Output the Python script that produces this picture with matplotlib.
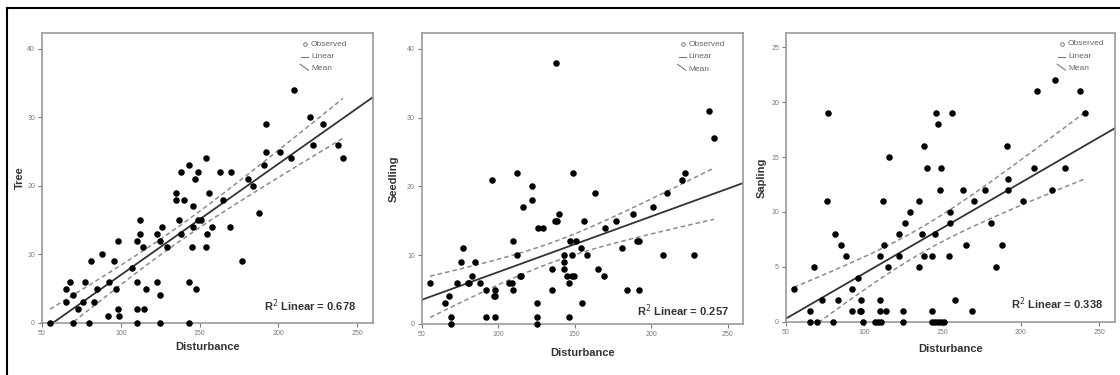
import matplotlib
matplotlib.use('Agg')
import matplotlib.pyplot as plt
from matplotlib.lines import Line2D
import numpy as np

plt.rcParams['font.family'] = ['Liberation Sans', 'DejaVu Sans']

# data
tree_x = [55, 65, 65, 68, 69.5, 69.5, 73, 76, 77, 80, 81, 83, 85, 88, 92, 92.5, 96, 97, 98, 98,
          99, 107, 110, 110, 110, 110, 112, 112, 114, 115, 116, 123, 123, 125, 125, 125, 126, 129,
          135, 135, 137, 138, 138, 140, 143, 143, 143, 145, 146, 146, 147, 148, 149, 149, 151, 155,
          154, 154, 156, 158, 163, 165, 169, 170, 177, 181, 184, 188, 191, 192, 192, 201, 208, 210,
          220, 222, 228, 238, 241]
tree_y = [0, 5, 3, 6, 4, 0, 2, 3, 6, 0, 9, 3, 5, 10, 1, 6, 9, 5, 12, 2,
          1, 8, 12, 6, 2, 0, 15, 13, 11, 2, 5, 13, 6, 12, 4, 0, 14, 11,
          19, 18, 15, 22, 13, 18, 23, 6, 0, 11, 17, 14, 21, 5, 22, 15, 15, 13,
          24, 11, 19, 14, 22, 18, 14, 22, 9, 21, 20, 16, 23, 25, 29, 25, 24, 34,
          30, 26, 29, 26, 24]

seed_x = [55.5, 65, 68, 69, 69, 73, 76, 77, 80, 81, 83, 85, 88, 92, 92, 96, 97, 98, 98, 98,
          107, 109, 110, 110, 112, 112, 114, 115, 116, 122, 122, 125.5, 125.5, 125.5, 126, 129,
          135, 135, 137, 138, 138.5, 140, 143, 143, 143, 145, 146, 146, 147, 148, 148, 149, 149.5,
          151, 154, 155, 156, 158, 163, 165, 169, 170, 177, 181, 184, 188, 191, 192, 192, 201,
          208, 210, 220, 222, 228, 238, 241]
seed_y = [6, 3, 4, 1, 0, 6, 9, 11, 6, 6, 7, 9, 6, 5, 1, 21, 4, 5, 4, 1,
          6, 6, 12, 5, 22, 10, 7, 7, 17, 20, 18, 3, 1, 0, 14, 14,
          8, 5, 15, 38, 15, 16, 10, 9, 8, 7, 6, 1, 12, 7, 10, 22, 7,
          12, 11, 3, 15, 10, 19, 8, 7, 14, 15, 11, 5, 16, 12, 12, 5, 17,
          10, 19, 21, 22, 10, 31, 27]

sap_x = [55, 65, 65, 68, 69.5, 73, 76, 77, 80, 81, 83, 85, 88, 92, 92, 96, 97, 98, 98, 99,
         107, 109, 110, 110, 110, 110.5, 112, 112.5, 114, 115, 116, 122, 122, 125, 125, 126, 129,
         135, 135, 137, 138, 138, 140, 143, 143, 143, 145, 145, 146, 147, 147, 148, 149, 149, 151,
         154, 154.5, 155, 156, 158, 163, 165, 169, 170, 177, 181, 184, 188, 191, 192, 192, 201,
         208, 210, 220, 222, 228, 238, 241]
sap_y = [3, 1, 0, 5, 0, 2, 11, 19, 0, 8, 2, 7, 6, 3, 1, 4, 1, 2, 1, 0,
         0, 0, 6, 2, 1, 0, 11, 7, 1, 5, 15, 8, 6, 1, 0, 9, 10,
         11, 5, 8, 16, 6, 14, 1, 6, 0, 8, 0, 19, 18, 0, 12, 14, 0, 0,
         6, 10, 9, 19, 2, 12, 7, 1, 11, 12, 9, 5, 7, 16, 13, 12, 11,
         14, 21, 12, 22, 14, 21, 19]

ylabels = ['Tree', 'Seedling', 'Sapling']
r2_texts = ['0.678', '0.257', '0.338']
x_ticks = [50, 100, 150, 200, 250]

GRAY = '#7a7a7a'


def fit_band(x, y, xs):
    # least squares line + 95% band for the mean
    x = np.asarray(x, float); y = np.asarray(y, float)
    n = len(x)
    b, a = np.polyfit(x, y, 1)
    resid = y - (a + b * x)
    s = np.sqrt(np.sum(resid ** 2) / (n - 2))
    sxx = np.sum((x - x.mean()) ** 2)
    t = 1.99  # t(0.975, ~77 df)
    yhat = a + b * xs
    half = t * s * np.sqrt(1.0 / n + (xs - x.mean()) ** 2 / sxx)
    return a, b, yhat - half, yhat + half


def draw_panel(ax, x, y, ylab, r2, ymax, ystep, leg_x, r2_pos, ylabpad, xlabpad):
    ax.set_xlim(50, 260)
    ax.set_ylim(0, ymax)
    ax.scatter(x, y, s=22, c='black', zorder=3, clip_on=False, linewidths=0)
    # fit line across whole axis
    xl = np.array([50.0, 260.0])
    a, b, lo, hi = fit_band(x, y, xl)
    ax.plot(xl, a + b * xl, color='#333333', lw=1.3, zorder=2)
    # mean confidence band over data range
    xs = np.linspace(min(x), max(x), 100)
    a, b, lo, hi = fit_band(x, y, xs)
    ax.plot(xs, lo, color='#8c8c8c', lw=1.1, ls=(0, (3, 2)), zorder=2)
    ax.plot(xs, hi, color='#8c8c8c', lw=1.1, ls=(0, (3, 2)), zorder=2)

    ax.set_xticks(x_ticks)
    ax.set_yticks(np.arange(0, ymax, ystep))
    ax.tick_params(direction='out', length=3, width=0.8, color=GRAY,
                   labelsize=5, labelcolor=GRAY, pad=2)
    for sp in ax.spines.values():
        sp.set_color('#9a9a9a')
        sp.set_linewidth(1.2)
    ax.set_xlabel('Disturbance', fontsize=8, fontweight='bold', color='#333333', labelpad=xlabpad)
    ax.set_ylabel(ylab, fontsize=8, fontweight='bold', color='#333333', labelpad=ylabpad)

    # legend drawn by hand (SPSS style)
    tr = ax.transAxes
    ax.plot([leg_x - 0.018], [0.962], 'o', ms=2.6, mfc='none', mec=GRAY, mew=0.7,
            transform=tr, clip_on=False)
    ax.plot([leg_x - 0.03, leg_x - 0.008], [0.918, 0.918], color=GRAY, lw=0.8, transform=tr)
    ax.plot([leg_x - 0.033, leg_x - 0.008], [0.892, 0.872], color=GRAY, lw=0.8, transform=tr)
    for yy, lab in zip([0.962, 0.918, 0.876], ['Observed', 'Linear', 'Mean']):
        ax.text(leg_x, yy, lab, transform=tr, fontsize=6, color='#666666', va='center', ha='left')

    ax.text(r2_pos[0], r2_pos[1], 'R$^2$ Linear = ' + r2, transform=tr, fontsize=8,
            fontweight='bold', color='#333333', ha='right', va='center')


fig = plt.figure(figsize=(11.2, 3.75), dpi=100)
ax1 = fig.add_axes([0.0375, 0.139, 0.2955, 0.773])
ax2 = fig.add_axes([0.3765, 0.136, 0.2869, 0.776])
ax3 = fig.add_axes([0.7018, 0.142, 0.2937, 0.770])

draw_panel(ax1, tree_x, tree_y, ylabels[0], r2_texts[0], 42.3, 10, 0.813, (0.948, 0.059), 1.5, 4)
draw_panel(ax2, seed_x, seed_y, ylabels[1], r2_texts[1], 42.3, 10, 0.830, (0.957, 0.045), 5.5, 7)
draw_panel(ax3, sap_x, sap_y, ylabels[2], r2_texts[2], 26.3, 5, 0.857, (0.963, 0.064), 3.5, 6)

# outer frame (only top and left edges visible)
fig.add_artist(Line2D([7 / 1120, 1], [1 - 8 / 375, 1 - 8 / 375], color='black', lw=1.5,
                      transform=fig.transFigure))
fig.add_artist(Line2D([7 / 1120, 7 / 1120], [0, 1 - 8 / 375], color='black', lw=1.5,
                      transform=fig.transFigure))

fig.savefig('out.png', dpi=100)
